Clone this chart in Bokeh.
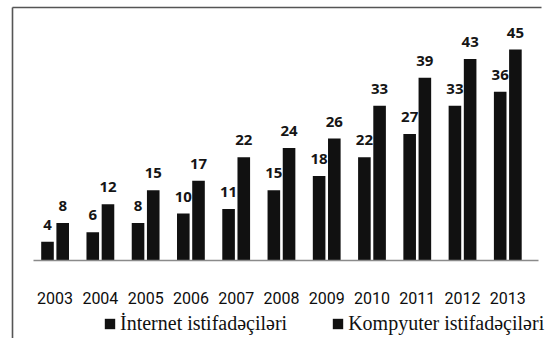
from bokeh.plotting import figure
from bokeh.models import Range1d, ColumnDataSource, Legend, LegendItem
from bokeh.transform import dodge
from bokeh.core.properties import value
from bokeh.embed import file_html
from bokeh.resources import INLINE

years = [2003, 2004, 2005, 2006, 2007, 2008, 2009, 2010, 2011, 2012, 2013]
year_labels = [str(y) for y in years]
internet = [4, 6, 8, 10, 11, 15, 18, 22, 27, 33, 36]
computer = [8, 12, 15, 17, 22, 24, 26, 33, 39, 43, 45]
series_names = ["İnternet istifadəçiləri", "Kompyuter istifadəçiləri"]

W, H = 550, 338
# pixel layout of the scan
x0_px, pitch_px = 54.6, 45.27          # centre of first group, group spacing
base_px, unit_px = 260.0, 211.0 / 45   # baseline (from top), px per unit

xs = years[0] - x0_px / pitch_px
xe = xs + W / pitch_px
ye = base_px / unit_px
ys = ye - H / unit_px

def X(px):
    return xs + px / pitch_px

def Y(py):
    return ye - py / unit_px

src = ColumnDataSource(dict(year=years, label=year_labels, internet=internet,
                            computer=computer,
                            internet_txt=[str(v) for v in internet],
                            computer_txt=[str(v) for v in computer],
                            zero=[0] * len(years)))

p = figure(width=W, height=H, output_backend="svg", toolbar_location=None,
           x_range=Range1d(xs, xe), y_range=Range1d(ys, ye),
           x_axis_location=None, y_axis_location=None, min_border=0)
p.outline_line_color = None
p.xgrid.visible = False
p.ygrid.visible = False
p.background_fill_color = "white"
p.border_fill_color = "white"

off = 7.6 / pitch_px
bw = 12.6 / pitch_px
dark = "#111111"

r1 = p.vbar(x=dodge("year", -off, range=p.x_range), top="internet", width=bw,
            bottom=0, source=src, fill_color=dark, line_color=None)
r2 = p.vbar(x=dodge("year", off, range=p.x_range), top="computer", width=bw,
            bottom=0, source=src, fill_color=dark, line_color=None)

# value labels
lbl_kw = dict(text_font=value("Open Sans"), text_font_style="bold",
              text_font_size="15px", text_align="center",
              text_baseline="bottom", text_color="#151515", y_offset=-12)
p.text(x=dodge("year", -off, range=p.x_range), y="internet", text="internet_txt",
       source=src, **lbl_kw)
p.text(x=dodge("year", off, range=p.x_range), y="computer", text="computer_txt",
       source=src, **lbl_kw)

# category labels
p.text(x="year", y="zero", text="label", source=src, y_offset=37,
       text_font=value("Roboto"), text_font_size="16px",
       text_align="center", text_baseline="middle", text_color="#0d0d0d")

# baseline
p.segment(x0=[X(33)], y0=[0], x1=[X(538)], y1=[0], line_color="#8a8a8a",
          line_width=1.5)
# frame border (scan)
p.segment(x0=[X(12), X(12)], y0=[Y(7), Y(7)], x1=[X(12), X(541)],
          y1=[Y(338), Y(7)], line_color="#555555", line_width=1.6)

legend = Legend(items=[LegendItem(label=series_names[0], renderers=[r1]),
                       LegendItem(label=series_names[1], renderers=[r2])],
                orientation="horizontal", location=(103, 3),
                label_text_font="Liberation Serif", label_text_font_size="20px",
                label_text_color="#111111", glyph_width=13, glyph_height=13,
                label_standoff=4, spacing=44, padding=0, margin=0,
                border_line_color=None, background_fill_alpha=0)
p.add_layout(legend)

open("out.html", "w").write(file_html(p, INLINE))
